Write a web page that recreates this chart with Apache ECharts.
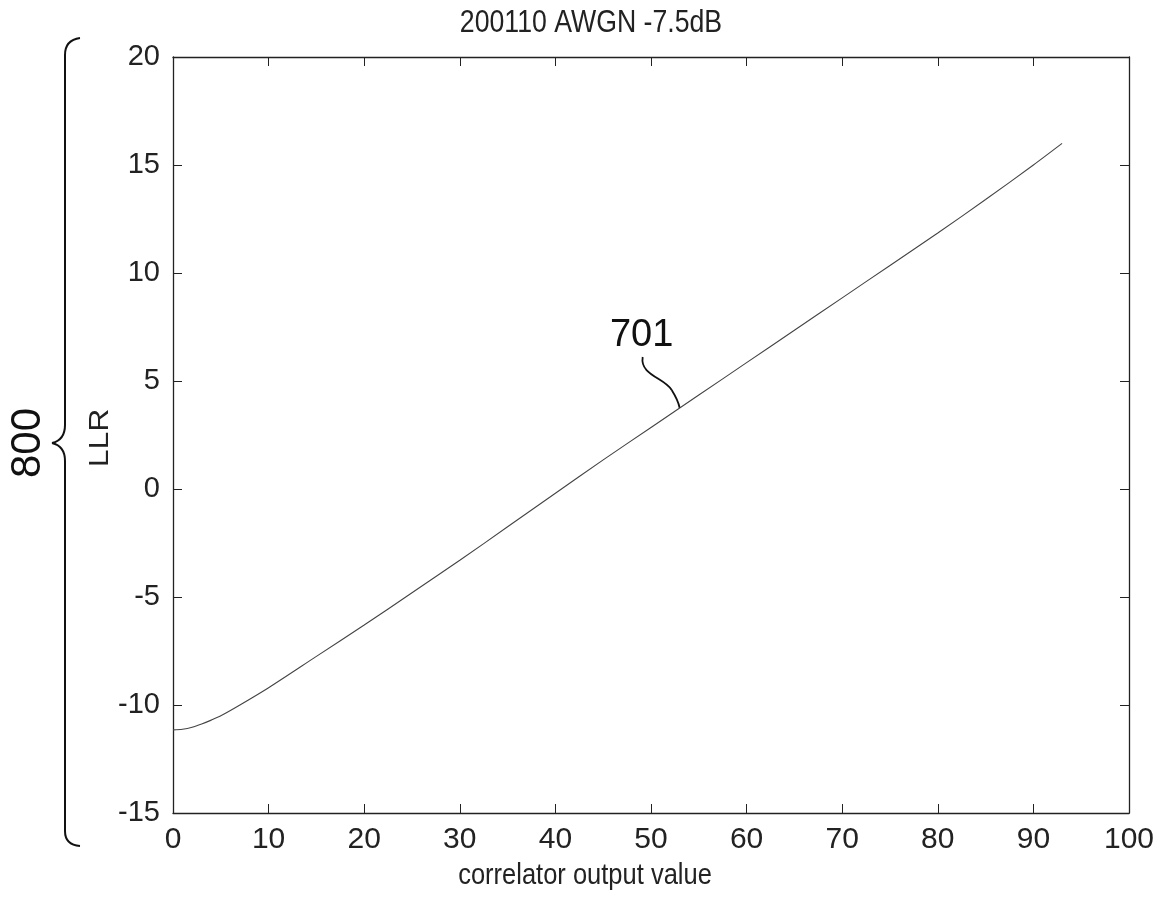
<!DOCTYPE html>
<html>
<head>
<meta charset="utf-8">
<script src="https://cdn.jsdelivr.net/npm/echarts@6/dist/echarts.min.js"></script>
<style>html,body{margin:0;padding:0;background:#fff;}#c{width:1164px;height:910px;}</style>
</head>
<body>
<div id="c"></div>
<script>
const xValues = [0, 1, 2, 3, 4, 5, 7, 10, 15, 20, 25, 30, 35, 40, 45, 50, 55, 60, 65, 70, 75, 80, 85, 90, 93];
const llrValues = [-11.15, -11.12, -11.03, -10.88, -10.7, -10.5, -10.0, -9.2, -7.75, -6.3, -4.8, -3.3, -1.75, -0.2, 1.35, 2.85, 4.35, 5.85, 7.35, 8.85, 10.35, 11.85, 13.4, 15.0, 16.0];
const titleText = '200110 AWGN -7.5dB';
const xName = 'correlator output value';
const yName = 'LLR';
const curveLabel = '701';
const braceLabel = '800';

const sans = "'Liberation Sans', Arial, sans-serif";
const chart = echarts.init(document.getElementById('c'), null, {renderer: 'canvas'});

const tick = {show: true, inside: true, length: 9, lineStyle: {color: '#222', width: 1}};
const axLine = {show: true, onZero: false, lineStyle: {color: '#222', width: 1.3}};

chart.setOption({
  animation: false,
  backgroundColor: '#fff',
  grid: {left: 173, top: 57, right: 35, bottom: 97, containLabel: false},
  xAxis: [
    {type: 'value', min: 0, max: 100, interval: 10, position: 'bottom',
     axisLine: axLine, axisTick: tick, splitLine: {show: false},
     axisLabel: {color: '#222', fontFamily: sans, fontSize: 30, margin: 12}},
    {type: 'value', min: 0, max: 100, interval: 10, position: 'top',
     axisLine: axLine, axisTick: tick, splitLine: {show: false}, axisLabel: {show: false}}
  ],
  yAxis: [
    {type: 'value', min: -15, max: 20, interval: 5, position: 'left',
     axisLine: axLine, axisTick: tick, splitLine: {show: false},
     axisLabel: {color: '#222', fontFamily: sans, fontSize: 29, margin: 13}},
    {type: 'value', min: -15, max: 20, interval: 5, position: 'right',
     axisLine: axLine, axisTick: tick, splitLine: {show: false}, axisLabel: {show: false}}
  ],
  series: [{
    type: 'line',
    xAxisIndex: 0,
    yAxisIndex: 0,
    data: xValues.map((x, i) => [x, llrValues[i]]),
    smooth: 0.3,
    showSymbol: false,
    lineStyle: {color: '#444', width: 1.1}
  }]
});

const p = chart.convertToPixel({xAxisIndex: 0, yAxisIndex: 0}, [53, 3.75]);
const stroke = {stroke: '#111', lineWidth: 2, fill: null};
const textStyle = (t, size) => ({text: t, fill: '#222', font: size + 'px ' + sans, textAlign: 'center', textVerticalAlign: 'middle'});

chart.setOption({
  graphic: [
    {type: 'text', x: 591, y: 23, scaleX: 0.86, style: textStyle(titleText, 31)},
    {type: 'text', x: 585, y: 876, scaleX: 0.85, style: textStyle(xName, 30)},
    {type: 'text', x: 100, y: 438, rotation: Math.PI / 2, scaleX: 1, scaleY: 0.85, style: textStyle(yName, 32)},
    {type: 'text', x: 28, y: 443, rotation: Math.PI / 2, style: Object.assign(textStyle(braceLabel, 42), {fill: '#111'})},
    {type: 'bezierCurve', shape: {x1: 80, y1: 38, cpx1: 65, cpy1: 40, x2: 65, y2: 55}, style: stroke},
    {type: 'line', shape: {x1: 65, y1: 55, x2: 65, y2: 425}, style: stroke},
    {type: 'bezierCurve', shape: {x1: 65, y1: 425, cpx1: 65, cpy1: 440, x2: 52, y2: 443}, style: stroke},
    {type: 'bezierCurve', shape: {x1: 52, y1: 443, cpx1: 65, cpy1: 446, x2: 65, y2: 461}, style: stroke},
    {type: 'line', shape: {x1: 65, y1: 461, x2: 65, y2: 831}, style: stroke},
    {type: 'bezierCurve', shape: {x1: 65, y1: 831, cpx1: 65, cpy1: 845, x2: 80, y2: 846}, style: stroke},
    {type: 'text', x: p[0] - 38, y: p[1] - 72, style: Object.assign(textStyle(curveLabel, 38), {fill: '#111'})},
    {type: 'bezierCurve', shape: {x1: p[0] - 37, y1: p[1] - 51, cpx1: p[0] - 40, cpy1: p[1] - 33, cpx2: p[0] - 15, cpy2: p[1] - 30, x2: p[0] - 8, y2: p[1] - 18},
     style: {stroke: '#111', lineWidth: 1.8, fill: null}},
    {type: 'bezierCurve', shape: {x1: p[0] - 8, y1: p[1] - 18, cpx1: p[0] - 3, cpy1: p[1] - 10, cpx2: p[0] - 1, cpy2: p[1] - 5, x2: p[0], y2: p[1]},
     style: {stroke: '#111', lineWidth: 1.8, fill: null}}
  ]
});
</script>
</body>
</html>
